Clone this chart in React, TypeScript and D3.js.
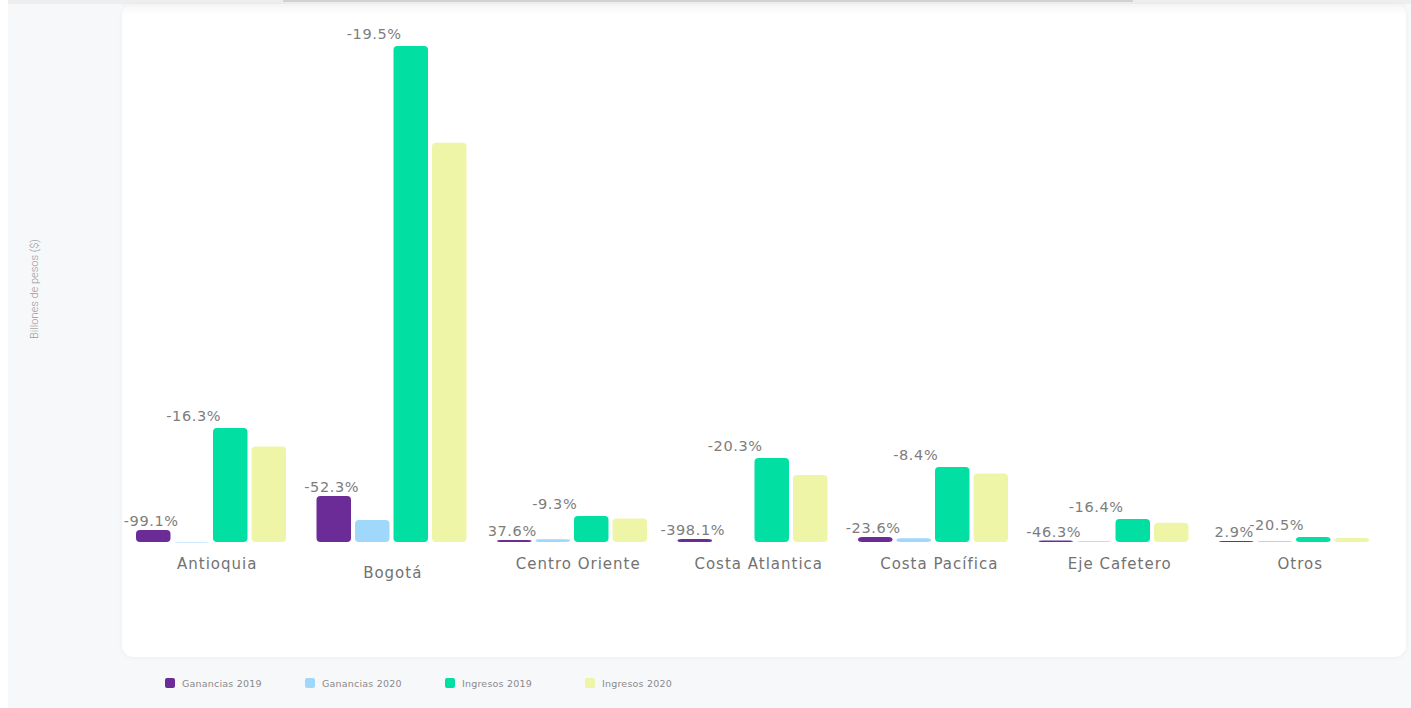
import React from "react";
import * as d3 from "d3";

const categories = ["Antioquia", "Bogotá", "Centro Oriente", "Costa Atlantica", "Costa Pacífica", "Eje Cafetero", "Otros"];
const seriesNames = ["Ganancias 2019", "Ganancias 2020", "Ingresos 2019", "Ingresos 2020"];
const seriesColors = ["#6c2c97", "#9fd8fa", "#02dfa3", "#eff5a6"];
const ganancias2019 = [6, 23, 1, 1.5, 2.5, 0.75, 0.5];
const ganancias2020 = [0.054, 10.97, 1.38, -4.47, 1.91, 0.4, 0.51];
const ingresos2019 = [57, 248, 13, 42, 37.5, 11.5, 2.5];
const ingresos2020 = [47.7, 199.6, 11.8, 33.5, 34.3, 9.6, 2.0];
const gananciasChange = ["-99.1%", "-52.3%", "37.6%", "-398.1%", "-23.6%", "-46.3%", "2.9%"];
const ingresosChange = ["-16.3%", "-19.5%", "-9.3%", "-20.3%", "-8.4%", "-16.4%", "-20.5%"];
const yTitle = "Billones de pesos ($)";

const W = 1411, H = 708;
const FONT = "'DejaVu Sans', sans-serif";

export default function App() {
  const series = [ganancias2019, ganancias2020, ingresos2019, ingresos2020];
  const baseline = 542;
  const maxVal = d3.max(series.flat()) as number;
  const y = d3.scaleLinear().domain([0, maxVal]).range([baseline, 46]);
  const x0 = d3.scaleBand<string>().domain(categories).range([121, 1384.5]).padding(0);
  const x1 = d3.scaleBand<string>().domain(seriesNames).range([15, 165]).paddingInner(0.104).paddingOuter(0);
  const bw = x1.bandwidth();

  return (
    <svg width={W} height={H} style={{ position: "absolute", left: 0, top: 0, display: "block" }}>
      <defs>
        <linearGradient id="topShade" x1="0" y1="0" x2="0" y2="1">
          <stop offset="0" stopColor="#f2f3f5" />
          <stop offset="1" stopColor="#ffffff" stopOpacity="0" />
        </linearGradient>
        <filter id="sh" x="-5%" y="-5%" width="110%" height="110%">
          <feDropShadow dx="0" dy="1" stdDeviation="2" floodColor="#000" floodOpacity="0.04" />
        </filter>
      </defs>
      <rect x={0} y={0} width={W} height={H} fill="#ffffff" />
      <rect x={8} y={0} width={W - 8} height={H} fill="#f7f8fa" />
      <rect x={8} y={0} width={W - 8} height={4} fill="#eeeeee" />
      <rect x={283} y={0} width={850} height={2} fill="#d2d2d2" />
      <rect x={122} y={4} width={1284} height={653} rx={12} fill="#ffffff" filter="url(#sh)" />
      <rect x={122} y={4} width={1284} height={14} fill="url(#topShade)" />

      <text
        transform={`translate(38,289) rotate(-90)`}
        textAnchor="middle"
        fontFamily="Roboto, sans-serif"
        fontWeight={300}
        fontSize={11}
        fill="#9a9a9a"
      >
        {yTitle}
      </text>

      {categories.map((c, i) => {
        const gx = x0(c)!;
        return (
          <g key={c}>
            {series.map((s, j) => {
              const v = s[i];
              if (v < 0) return null;
              const top = y(v);
              const h = baseline - top;
              return (
                <rect
                  key={j}
                  x={gx + x1(seriesNames[j])!}
                  y={top}
                  width={bw}
                  height={Math.max(h, 0.6)}
                  rx={4}
                  fill={seriesColors[j]}
                />
              );
            })}
            <text
              x={gx + x1(seriesNames[0])! + bw / 2 - 2}
              y={y(Math.max(ganancias2019[i], 0)) - 4}
              textAnchor="middle"
              fontFamily={FONT}
              fontSize={14.5}
              letterSpacing={0.6}
              fill="#7d7d7d"
            >
              {gananciasChange[i]}
            </text>
            <text
              x={gx + x1(seriesNames[1])! + bw / 2 + 2}
              y={y(ingresos2019[i]) - 7}
              textAnchor="middle"
              fontFamily={FONT}
              fontSize={14.5}
              letterSpacing={0.6}
              fill="#7d7d7d"
            >
              {ingresosChange[i]}
            </text>
            <text
              x={gx + x0.bandwidth() / 2 + (c === "Bogotá" ? 1 : 6)}
              y={c === "Bogotá" ? 578 : 569}
              textAnchor="middle"
              fontFamily={FONT}
              fontSize={15}
              letterSpacing={1}
              fill="#727272"
            >
              {c}
            </text>
          </g>
        );
      })}

      {seriesNames.map((n, j) => {
        const lx = 165 + j * 140;
        return (
          <g key={n}>
            <rect x={lx} y={678} width={10} height={10} rx={2} fill={seriesColors[j]} />
            <text x={lx + 17} y={687} fontFamily={FONT} fontSize={9.5} letterSpacing={0.2} fill="#8a8a8a">
              {n}
            </text>
          </g>
        );
      })}
    </svg>
  );
}
